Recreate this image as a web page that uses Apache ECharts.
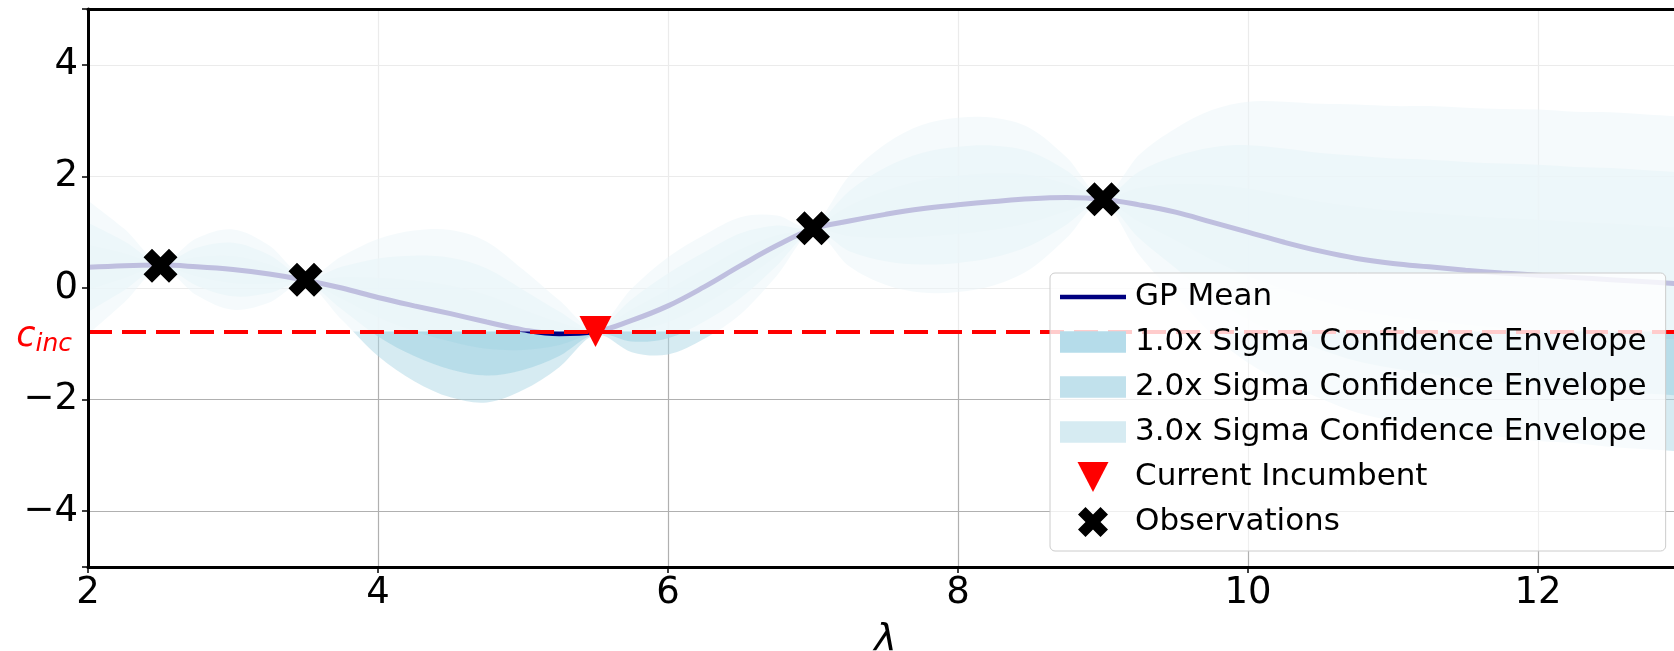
<!DOCTYPE html>
<html>
<head>
<meta charset="utf-8">
<script src="https://cdn.jsdelivr.net/npm/echarts@6/dist/echarts.min.js"></script>
<style>
html,body{margin:0;padding:0;background:#fff;}
#chart{width:1674px;height:651px;}
</style>
</head>
<body>
<div id="chart"></div>
<script>
// ---- data ----
const xs = [2.0,2.25,2.5,2.75,3.0,3.25,3.5,3.75,4.0,4.25,4.5,4.75,5.0,5.25,5.5,5.75,6.0,6.25,6.5,6.75,7.0,7.25,7.5,7.75,8.0,8.25,8.5,8.75,9.0,9.25,9.5,9.75,10.0,10.25,10.5,10.75,11.0,11.25,11.5,11.75,12.0,12.25,12.5,12.75,13.0];
const meanVals = [0.37,0.40,0.41,0.38,0.33,0.25,0.14,0.00,-0.17,-0.32,-0.46,-0.61,-0.75,-0.82,-0.78,-0.58,-0.32,0.02,0.40,0.76,1.06,1.20,1.32,1.42,1.49,1.55,1.60,1.62,1.59,1.49,1.36,1.18,1.00,0.82,0.66,0.53,0.44,0.38,0.32,0.27,0.23,0.19,0.15,0.11,0.07];
const sigmaVals = [0.40,0.22,0.02,0.17,0.24,0.17,0.02,0.19,0.35,0.45,0.50,0.48,0.36,0.20,0.02,0.19,0.29,0.31,0.29,0.18,0.02,0.27,0.42,0.50,0.52,0.50,0.42,0.24,0.02,0.30,0.50,0.67,0.78,0.84,0.88,0.92,0.94,0.96,0.97,0.98,0.99,0.99,1.00,1.00,1.00];
const obsX = [2.5, 3.5, 7.0, 9.0];
const obsY = [0.40, 0.15, 1.07, 1.59];
const incX = [5.5];
const incY = [-0.78];
const cInc = -0.78;
const sigmaLevels = [3, 2, 1];
const bandNames = ['3.0x Sigma Confidence Envelope', '2.0x Sigma Confidence Envelope', '1.0x Sigma Confidence Envelope'];
const xTicks = [2, 4, 6, 8, 10, 12];
const yTicks = [-4, -2, 0, 2, 4];

// ---- styles ----
const FONT = 'DejaVu Sans';
const bandOpacity = {3: 0.5, 2: 0.75, 1: 0.9};
const bandLegendColor = {3: '#d6ebf2', 2: '#c1e1ec', 1: '#b5dcea'};
const xPath = 'path://M1,-2 L2,-1 L1,0 L2,1 L1,2 L0,1 L-1,2 L-2,1 L-1,0 L-2,-1 L-1,-2 L0,-1 Z';
const linePath = 'path://M0,0 L66,0 L66,4.5 L0,4.5 Z';
const rectPath = 'path://M0,0 L61,0 L61,20 L0,20 Z';
const triPath = 'path://M0,0 L32,0 L16,31 Z';
const fmt = v => (v < 0 ? '\u2212' + (-v) : String(v));
const spine = {show: true, onZero: false, lineStyle: {color: '#000', width: 3}};

// smooth open curve through pixel points (Catmull-Rom -> cubic Bezier)
function curve(pts, start) {
  let d = (start ? 'M' : 'L') + pts[0][0] + ',' + pts[0][1];
  for (let i = 0; i < pts.length - 1; i++) {
    const p0 = pts[Math.max(0, i - 1)], p1 = pts[i], p2 = pts[i + 1], p3 = pts[Math.min(pts.length - 1, i + 2)];
    const c1 = [p1[0] + (p2[0] - p0[0]) / 6, p1[1] + (p2[1] - p0[1]) / 6];
    const c2 = [p2[0] - (p3[0] - p1[0]) / 6, p2[1] - (p3[1] - p1[1]) / 6];
    d += 'C' + c1[0] + ',' + c1[1] + ' ' + c2[0] + ',' + c2[1] + ' ' + p2[0] + ',' + p2[1];
  }
  return d;
}

const series = [];
sigmaLevels.forEach((k, bi) => {
  series.push({
    type: 'custom', name: 'env' + k, coordinateSystem: 'cartesian2d',
    clip: true, silent: true, z: 2,
    data: [[xs[0], meanVals[0]]],
    renderItem: function (params, api) {
      const up = xs.map((x, i) => api.coord([x, meanVals[i] + k * sigmaVals[i]]));
      const lo = xs.map((x, i) => api.coord([x, meanVals[i] - k * sigmaVals[i]])).reverse();
      const d = curve(up, true) + curve(lo, false) + 'Z';
      return {
        type: 'path',
        shape: {pathData: d},
        style: {fill: 'rgba(173,216,230,' + bandOpacity[k] + ')', stroke: null}
      };
    }
  });
  // legend proxy
  series.push({
    type: 'scatter', name: bandNames[bi], data: [],
    itemStyle: {color: bandLegendColor[k], opacity: 1}
  });
});

series.push({
  type: 'line', name: 'meanLine',
  data: xs.map((x, i) => [x, meanVals[i]]),
  symbol: 'none', smooth: 0.4, z: 3, silent: true,
  lineStyle: {color: '#000080', width: 5}
});
series.push({type: 'scatter', name: 'GP Mean', data: [], itemStyle: {color: '#000080', opacity: 1}});

// overlay above incumbent + incumbent dashed line
series.push({
  type: 'line', name: 'overlay', data: [], silent: true,
  markArea: {
    silent: true, z: 4,
    itemStyle: {color: 'rgba(255,255,255,0.75)'},
    data: [[{yAxis: cInc}, {yAxis: 5}]]
  },
  markLine: {
    silent: true, z: 6, symbol: ['none', 'none'],
    lineStyle: {color: '#ff0000', width: 4, type: [24, 10], opacity: 1},
    label: {
      show: true, position: 'start', distance: 16,
      padding: [10, 0, 0, 0],
      formatter: '{c|c}{s|inc}',
      rich: {
        c: {fontFamily: FONT, fontStyle: 'italic', fontSize: 35, color: '#ff0000', lineHeight: 40, verticalAlign: 'middle'},
        s: {fontFamily: FONT, fontStyle: 'italic', fontSize: 25, color: '#ff0000', lineHeight: 20, verticalAlign: 'bottom'}
      }
    },
    data: [{yAxis: cInc}]
  }
});

series.push({
  type: 'scatter', name: 'Current Incumbent',
  data: incX.map((x, i) => [x, incY[i]]),
  symbol: 'triangle', symbolRotate: 180, symbolSize: [32, 31],
  itemStyle: {color: '#ff0000', opacity: 1}, z: 8
});
series.push({
  type: 'scatter', name: 'Observations',
  data: obsX.map((x, i) => [x, obsY[i]]),
  symbol: xPath, symbolSize: 34,
  itemStyle: {color: '#000000', opacity: 1}, z: 8
});

const chart = echarts.init(document.getElementById('chart'), null, {renderer: 'canvas'});
chart.setOption({
  animation: false,
  backgroundColor: '#ffffff',
  grid: {
    left: 88, top: 9, width: 1595, height: 558,
    containLabel: false, outerBoundsMode: 'none', show: false
  },
  xAxis: [{
    type: 'value', min: 2, max: 13, interval: 2, position: 'bottom',
    name: 'λ', nameLocation: 'middle', nameGap: 54,
    nameTextStyle: {fontFamily: FONT, fontStyle: 'italic', fontSize: 38, color: '#000'},
    axisLine: spine,
    axisTick: {show: true, length: 6, lineStyle: {color: '#000', width: 1.5}},
    axisLabel: {
      fontFamily: FONT, fontSize: 37, color: '#000', margin: 8,
      formatter: v => (xTicks.includes(v) ? fmt(v) : '')
    },
    splitLine: {show: true, lineStyle: {color: '#b0b0b0', width: 1.2}}
  }, {
    type: 'value', min: 2, max: 13, position: 'top', z: 15,
    axisLine: spine, axisTick: {show: false}, axisLabel: {show: false}, splitLine: {show: false}
  }],
  yAxis: [{
    type: 'value', min: -5, max: 5, splitNumber: 5, position: 'left',
    axisLine: {show: false},
    axisTick: {show: true, length: 6, lineStyle: {color: '#000', width: 1.5}},
    axisLabel: {
      fontFamily: FONT, fontSize: 37, color: '#000', margin: 10,
      formatter: v => (yTicks.includes(v) ? fmt(v) : '')
    },
    splitLine: {show: true, lineStyle: {color: '#b0b0b0', width: 1.2}}
  }, {
    type: 'value', min: -5, max: 5, position: 'left', offset: 0, z: 15,
    axisLine: spine, axisTick: {show: false}, axisLabel: {show: false}, splitLine: {show: false}
  }],
  legend: {
    orient: 'vertical', left: 1050, top: 273, z: 20,
    backgroundColor: 'rgba(255,255,255,0.8)',
    borderColor: '#cccccc', borderWidth: 1, borderRadius: 5,
    padding: [7, 19, 12, 10],
    itemWidth: 66, itemHeight: 30, itemGap: 11,
    selectedMode: false,
    textStyle: {fontFamily: FONT, fontSize: 31, color: '#000', lineHeight: 34, padding: [0, 0, 0, 4]},
    data: [
      {name: 'GP Mean', icon: linePath},
      {name: '1.0x Sigma Confidence Envelope', icon: rectPath},
      {name: '2.0x Sigma Confidence Envelope', icon: rectPath},
      {name: '3.0x Sigma Confidence Envelope', icon: rectPath},
      {name: 'Current Incumbent', icon: triPath},
      {name: 'Observations', icon: xPath}
    ]
  },
  series: series
});
</script>
</body>
</html>
